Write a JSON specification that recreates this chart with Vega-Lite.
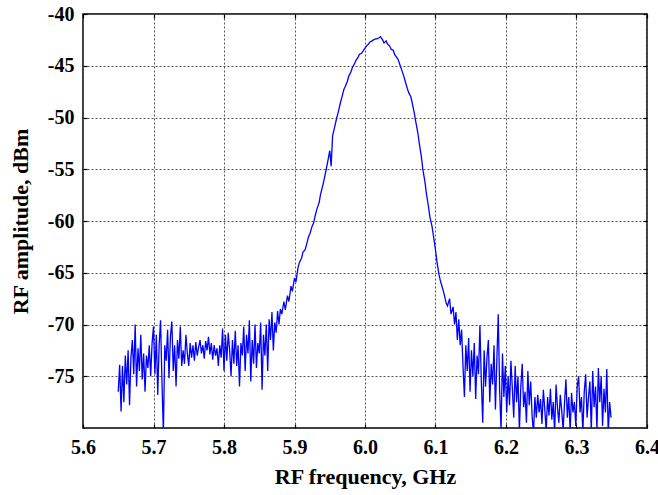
{
  "$schema": "https://vega.github.io/schema/vega-lite/v6.json",
  "width": 564,
  "height": 414,
  "autosize": {"type": "none"},
  "padding": {"left": 83, "top": 14, "right": 11, "bottom": 67},
  "background": "white",
  "config": {
    "view": {"stroke": "black", "strokeWidth": 1.5},
    "font": "Liberation Serif",
    "axis": {
      "labelFont": "Liberation Serif",
      "labelFontWeight": "bold",
      "labelFontSize": 20,
      "labelColor": "black",
      "titleFont": "Liberation Serif",
      "titleFontWeight": "bold",
      "titleFontSize": 22,
      "titleColor": "black",
      "domain": false,
      "tickColor": "black",
      "tickSize": -4,
      "tickWidth": 1.2,
      "gridColor": "#555555",
      "gridDash": [2, 2],
      "gridWidth": 1,
      "gridOpacity": 1
    }
  },
  "data": {"values": [
    {"f":5.650,"a":-76.5},{"f":5.652,"a":-73.9},{"f":5.654,"a":-78.4},{"f":5.656,"a":-74.0},{"f":5.658,"a":-77.5},
    {"f":5.660,"a":-73.0},{"f":5.662,"a":-75.8},{"f":5.664,"a":-72.5},{"f":5.666,"a":-77.8},{"f":5.668,"a":-73.2},
    {"f":5.670,"a":-71.5},{"f":5.672,"a":-74.8},{"f":5.674,"a":-70.0},{"f":5.676,"a":-76.0},{"f":5.678,"a":-72.3},
    {"f":5.680,"a":-74.5},{"f":5.682,"a":-71.0},{"f":5.684,"a":-75.3},{"f":5.686,"a":-72.8},{"f":5.688,"a":-76.5},
    {"f":5.690,"a":-73.0},{"f":5.692,"a":-74.2},{"f":5.694,"a":-72.0},{"f":5.696,"a":-75.0},{"f":5.698,"a":-71.8},
    {"f":5.700,"a":-70.2},{"f":5.702,"a":-74.8},{"f":5.704,"a":-71.0},{"f":5.706,"a":-76.8},{"f":5.708,"a":-72.0},
    {"f":5.710,"a":-69.6},{"f":5.712,"a":-75.5},{"f":5.714,"a":-80.5},{"f":5.716,"a":-72.0},{"f":5.718,"a":-73.5},
    {"f":5.720,"a":-70.5},{"f":5.722,"a":-75.2},{"f":5.724,"a":-71.2},{"f":5.726,"a":-69.7},{"f":5.728,"a":-74.5},
    {"f":5.730,"a":-72.0},{"f":5.732,"a":-76.0},{"f":5.734,"a":-71.5},{"f":5.736,"a":-73.3},{"f":5.738,"a":-70.2},
    {"f":5.740,"a":-74.0},{"f":5.742,"a":-72.5},{"f":5.744,"a":-73.8},{"f":5.746,"a":-71.0},{"f":5.748,"a":-72.8},
    {"f":5.750,"a":-74.0},{"f":5.752,"a":-71.8},{"f":5.754,"a":-73.2},{"f":5.756,"a":-72.0},{"f":5.758,"a":-73.5},
    {"f":5.760,"a":-71.7},{"f":5.762,"a":-73.0},{"f":5.764,"a":-72.2},{"f":5.766,"a":-71.5},{"f":5.768,"a":-72.8},
    {"f":5.770,"a":-72.0},{"f":5.772,"a":-73.3},{"f":5.774,"a":-71.6},{"f":5.776,"a":-72.5},{"f":5.778,"a":-71.2},
    {"f":5.780,"a":-72.9},{"f":5.782,"a":-71.8},{"f":5.784,"a":-73.4},{"f":5.786,"a":-72.0},{"f":5.788,"a":-73.0},
    {"f":5.790,"a":-72.3},{"f":5.792,"a":-74.0},{"f":5.794,"a":-72.0},{"f":5.796,"a":-73.2},{"f":5.798,"a":-70.4},
    {"f":5.800,"a":-74.5},{"f":5.802,"a":-71.0},{"f":5.804,"a":-73.5},{"f":5.806,"a":-70.8},{"f":5.808,"a":-72.5},
    {"f":5.810,"a":-75.0},{"f":5.812,"a":-71.5},{"f":5.814,"a":-73.8},{"f":5.816,"a":-70.6},{"f":5.818,"a":-74.0},
    {"f":5.820,"a":-72.0},{"f":5.822,"a":-76.0},{"f":5.824,"a":-71.8},{"f":5.826,"a":-73.0},{"f":5.828,"a":-70.2},
    {"f":5.830,"a":-74.5},{"f":5.832,"a":-71.0},{"f":5.834,"a":-72.8},{"f":5.836,"a":-69.6},{"f":5.838,"a":-75.5},
    {"f":5.840,"a":-71.5},{"f":5.842,"a":-73.8},{"f":5.844,"a":-70.0},{"f":5.846,"a":-74.2},{"f":5.848,"a":-71.8},
    {"f":5.850,"a":-72.8},{"f":5.852,"a":-69.8},{"f":5.854,"a":-76.3},{"f":5.856,"a":-71.0},{"f":5.858,"a":-73.0},
    {"f":5.860,"a":-70.0},{"f":5.862,"a":-74.5},{"f":5.864,"a":-69.5},{"f":5.866,"a":-71.5},{"f":5.868,"a":-68.8},
    {"f":5.870,"a":-72.5},{"f":5.872,"a":-69.8},{"f":5.874,"a":-70.8},{"f":5.876,"a":-68.7},{"f":5.878,"a":-70.0},
    {"f":5.880,"a":-68.5},{"f":5.882,"a":-69.0},{"f":5.885,"a":-67.8},{"f":5.887,"a":-68.6},{"f":5.890,"a":-67.2},
    {"f":5.892,"a":-67.8},{"f":5.895,"a":-66.3},{"f":5.897,"a":-66.8},{"f":5.900,"a":-65.5},{"f":5.902,"a":-65.9},
    {"f":5.905,"a":-64.5},{"f":5.907,"a":-64.0},{"f":5.910,"a":-63.6},{"f":5.912,"a":-63.0},{"f":5.915,"a":-62.8},
    {"f":5.917,"a":-62.3},{"f":5.920,"a":-61.5},{"f":5.922,"a":-61.2},{"f":5.925,"a":-60.5},{"f":5.927,"a":-60.2},
    {"f":5.930,"a":-59.3},{"f":5.932,"a":-58.8},{"f":5.935,"a":-58.2},{"f":5.937,"a":-57.4},{"f":5.940,"a":-56.6},
    {"f":5.942,"a":-56.0},{"f":5.945,"a":-55.0},{"f":5.947,"a":-54.3},{"f":5.950,"a":-53.2},{"f":5.952,"a":-54.7},
    {"f":5.954,"a":-51.8},{"f":5.957,"a":-50.9},{"f":5.960,"a":-50.0},{"f":5.962,"a":-49.5},{"f":5.965,"a":-48.6},
    {"f":5.967,"a":-48.1},{"f":5.970,"a":-47.3},{"f":5.972,"a":-47.0},{"f":5.975,"a":-46.5},{"f":5.977,"a":-46.0},
    {"f":5.980,"a":-45.6},{"f":5.982,"a":-45.2},{"f":5.985,"a":-44.8},{"f":5.987,"a":-44.5},{"f":5.990,"a":-44.2},
    {"f":5.992,"a":-43.9},{"f":5.995,"a":-43.8},{"f":5.997,"a":-43.6},{"f":6.000,"a":-43.3},{"f":6.002,"a":-43.1},
    {"f":6.005,"a":-42.9},{"f":6.007,"a":-42.7},{"f":6.010,"a":-42.6},{"f":6.012,"a":-42.5},{"f":6.015,"a":-42.4},
    {"f":6.017,"a":-42.4},{"f":6.020,"a":-42.3},{"f":6.022,"a":-42.2},{"f":6.025,"a":-42.5},{"f":6.027,"a":-42.8},
    {"f":6.030,"a":-42.6},{"f":6.032,"a":-42.9},{"f":6.035,"a":-43.1},{"f":6.037,"a":-43.4},{"f":6.040,"a":-43.5},
    {"f":6.042,"a":-43.9},{"f":6.045,"a":-44.2},{"f":6.047,"a":-44.4},{"f":6.050,"a":-45.0},{"f":6.052,"a":-45.4},
    {"f":6.055,"a":-46.0},{"f":6.057,"a":-46.5},{"f":6.060,"a":-47.2},{"f":6.062,"a":-47.6},{"f":6.065,"a":-48.0},
    {"f":6.067,"a":-48.6},{"f":6.070,"a":-49.6},{"f":6.072,"a":-50.4},{"f":6.075,"a":-51.5},{"f":6.077,"a":-52.5},
    {"f":6.080,"a":-53.8},{"f":6.082,"a":-55.0},{"f":6.085,"a":-56.2},{"f":6.087,"a":-57.3},{"f":6.090,"a":-58.6},
    {"f":6.092,"a":-59.6},{"f":6.095,"a":-60.5},{"f":6.097,"a":-61.4},{"f":6.100,"a":-62.8},{"f":6.102,"a":-63.9},
    {"f":6.105,"a":-65.2},{"f":6.107,"a":-65.8},{"f":6.110,"a":-66.5},{"f":6.112,"a":-67.0},{"f":6.115,"a":-67.9},
    {"f":6.117,"a":-68.2},{"f":6.120,"a":-67.5},{"f":6.122,"a":-69.0},{"f":6.125,"a":-68.3},
    {"f":6.127,"a":-70.0},{"f":6.129,"a":-68.8},{"f":6.131,"a":-71.5},{"f":6.133,"a":-69.5},{"f":6.135,"a":-72.0},
    {"f":6.137,"a":-70.5},{"f":6.139,"a":-74.0},{"f":6.141,"a":-77.0},{"f":6.143,"a":-72.0},{"f":6.145,"a":-74.5},
    {"f":6.147,"a":-71.3},{"f":6.149,"a":-76.5},{"f":6.151,"a":-72.5},{"f":6.153,"a":-75.0},{"f":6.155,"a":-71.8},
    {"f":6.157,"a":-77.2},{"f":6.159,"a":-73.0},{"f":6.161,"a":-74.8},{"f":6.163,"a":-70.1},{"f":6.165,"a":-75.5},
    {"f":6.167,"a":-79.5},{"f":6.169,"a":-72.5},{"f":6.171,"a":-76.0},{"f":6.173,"a":-73.2},{"f":6.175,"a":-71.5},
    {"f":6.177,"a":-77.5},{"f":6.179,"a":-73.8},{"f":6.181,"a":-75.8},{"f":6.183,"a":-72.0},{"f":6.185,"a":-78.2},
    {"f":6.187,"a":-73.5},{"f":6.189,"a":-69.0},{"f":6.191,"a":-76.5},{"f":6.193,"a":-80.2},{"f":6.195,"a":-72.8},
    {"f":6.197,"a":-77.0},{"f":6.199,"a":-74.0},{"f":6.201,"a":-78.5},{"f":6.203,"a":-75.0},{"f":6.205,"a":-77.8},
    {"f":6.207,"a":-73.5},{"f":6.209,"a":-76.2},{"f":6.211,"a":-79.0},{"f":6.213,"a":-74.0},{"f":6.215,"a":-77.5},
    {"f":6.217,"a":-75.0},{"f":6.219,"a":-80.3},{"f":6.221,"a":-76.0},{"f":6.223,"a":-73.8},{"f":6.225,"a":-78.0},
    {"f":6.227,"a":-76.5},{"f":6.229,"a":-79.5},{"f":6.231,"a":-74.5},{"f":6.233,"a":-77.8},{"f":6.235,"a":-75.5},
    {"f":6.237,"a":-78.8},{"f":6.239,"a":-80.5},{"f":6.241,"a":-77.0},{"f":6.243,"a":-79.0},{"f":6.245,"a":-76.8},
    {"f":6.247,"a":-78.5},{"f":6.249,"a":-77.2},{"f":6.251,"a":-79.6},{"f":6.253,"a":-76.3},{"f":6.255,"a":-78.2},
    {"f":6.257,"a":-80.3},{"f":6.259,"a":-77.0},{"f":6.261,"a":-78.8},{"f":6.263,"a":-76.2},{"f":6.265,"a":-79.2},
    {"f":6.267,"a":-77.5},{"f":6.269,"a":-80.4},{"f":6.271,"a":-75.8},{"f":6.273,"a":-78.0},{"f":6.275,"a":-79.5},
    {"f":6.277,"a":-76.8},{"f":6.279,"a":-78.3},{"f":6.281,"a":-80.2},{"f":6.283,"a":-77.6},{"f":6.285,"a":-75.3},
    {"f":6.287,"a":-79.0},{"f":6.289,"a":-77.0},{"f":6.291,"a":-80.3},{"f":6.293,"a":-76.6},{"f":6.295,"a":-78.5},
    {"f":6.297,"a":-77.5},{"f":6.299,"a":-79.8},{"f":6.301,"a":-76.0},{"f":6.303,"a":-75.0},{"f":6.305,"a":-78.5},
    {"f":6.307,"a":-77.0},{"f":6.309,"a":-80.4},{"f":6.311,"a":-76.5},{"f":6.313,"a":-74.8},{"f":6.315,"a":-79.0},
    {"f":6.317,"a":-77.0},{"f":6.319,"a":-75.5},{"f":6.321,"a":-80.3},{"f":6.323,"a":-74.5},{"f":6.325,"a":-78.0},
    {"f":6.327,"a":-76.0},{"f":6.329,"a":-80.2},{"f":6.331,"a":-74.2},{"f":6.333,"a":-77.5},{"f":6.335,"a":-75.0},
    {"f":6.337,"a":-79.8},{"f":6.339,"a":-76.2},{"f":6.341,"a":-78.5},{"f":6.343,"a":-74.3},{"f":6.345,"a":-80.5},
    {"f":6.347,"a":-77.5},{"f":6.349,"a":-79.0}
  ]},
  "resolve": {"axis": {"x": "independent", "y": "independent"}},
  "layer": [
    {
      "mark": {"type": "line", "color": "#0000FF", "strokeWidth": 1.3, "clip": true, "interpolate": "linear"},
      "encoding": {
        "x": {"field": "f", "type": "quantitative", "scale": {"domain": [5.6, 6.4], "nice": false, "zero": false},
          "axis": {"orient": "bottom", "title": "RF frequency, GHz", "values": [5.6,5.7,5.8,5.9,6.0,6.1,6.2,6.3,6.4], "format": ".1f", "labelPadding": 13, "titlePadding": 9, "labelFlush": false}},
        "y": {"field": "a", "type": "quantitative", "scale": {"domain": [-80, -40], "nice": false, "zero": false},
          "axis": {"orient": "left", "title": "RF amplitude, dBm", "values": [-75,-70,-65,-60,-55,-50,-45,-40], "labelExpr": "'' + datum.value", "labelPadding": 13, "titlePadding": 15, "labelFlush": false}}
      }
    },
    {
      "mark": {"type": "line", "opacity": 0},
      "encoding": {
        "x": {"field": "f", "type": "quantitative", "axis": {"orient": "top", "title": null, "labels": false, "grid": false, "values": [5.6,5.7,5.8,5.9,6.0,6.1,6.2,6.3,6.4]}},
        "y": {"field": "a", "type": "quantitative", "axis": {"orient": "right", "title": null, "labels": false, "grid": false, "values": [-75,-70,-65,-60,-55,-50,-45,-40]}}
      }
    }
  ]
}
